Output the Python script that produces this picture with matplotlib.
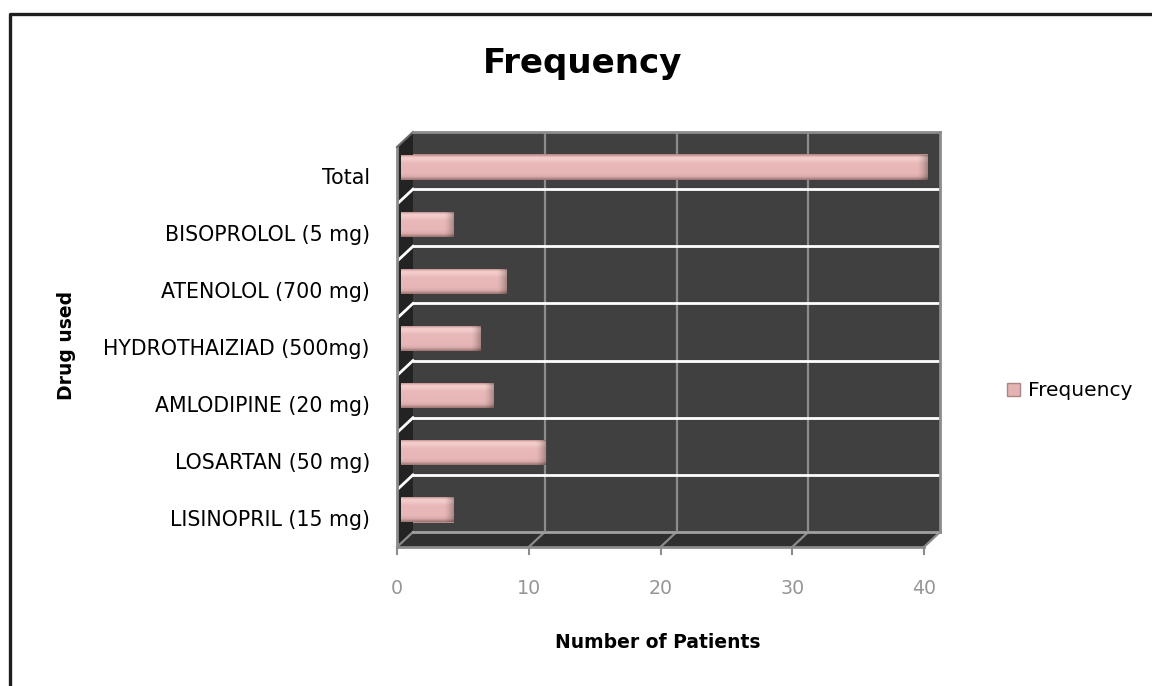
import numpy as np
import matplotlib
matplotlib.use("Agg")
import matplotlib.pyplot as plt
from matplotlib.transforms import ScaledTranslation
from matplotlib.patches import Polygon, Patch
from matplotlib.lines import Line2D
from matplotlib.colors import to_rgb

# ---- data ----
drugs = ["LISINOPRIL (15 mg)", "LOSARTAN (50 mg)", "AMLODIPINE (20 mg)",
         "HYDROTHAIZIAD (500mg)", "ATENOLOL (700 mg)", "BISOPROLOL (5 mg)", "Total"]
frequency = [4, 11, 7, 6, 8, 4, 40]
x_ticks = [0, 10, 20, 30, 40]

W, H = 1152, 686
plt.rcParams["font.family"] = ["DejaVu Sans"]
fig = plt.figure(figsize=(W / 100, H / 100), dpi=100)
fig.patch.set_facecolor("white")

# back wall of the pseudo-3D plot
L, R, T, B = 413, 940, 132, 532
ax = fig.add_axes([L / W, 1 - B / H, (R - L) / W, (B - T) / H])
ax.set_facecolor("#404040")
n = len(drugs)
ypos = np.arange(n)
ax.set_xlim(0, 40)
ax.set_ylim(-0.5, n - 0.5)

# depth offset of the front plane (pixels -> data units)
px_x = 40 / (R - L)
px_y = n / (B - T)
DX, DY = -16 * px_x, -15 * px_y

for s in ["left", "bottom"]:
    ax.spines[s].set_visible(False)
for s in ["top", "right"]:
    ax.spines[s].set_color("#8c8c8c")
    ax.spines[s].set_linewidth(2)

# grid on back wall
for g in x_ticks[1:-1]:
    ax.axvline(g, color="#8c8c8c", lw=1.6, zorder=1)
for b in np.arange(n - 1) + 0.5:
    ax.axhline(b, color="white", lw=2.0, zorder=1)

# side wall
ybot, ytop = -0.5, n - 0.5
side = Polygon([(0, ytop), (0, ybot), (DX, ybot + DY), (DX, ytop + DY)],
               closed=True, facecolor="#232323", edgecolor="none",
               clip_on=False, zorder=0.5)
ax.add_patch(side)
for b in np.arange(n - 1) + 0.5:
    ax.add_line(Line2D([0, DX], [b, b + DY], color="white", lw=2.0,
                       clip_on=False, zorder=0.6))
ax.add_line(Line2D([DX, DX], [ybot + DY, ytop + DY], color="#8c8c8c", lw=2,
                   clip_on=False, zorder=0.7))
ax.add_line(Line2D([0, DX], [ytop, ytop + DY], color="#6a6a6a", lw=1.5,
                   clip_on=False, zorder=0.7))

# floor
floor = Polygon([(0, ybot), (40, ybot), (40 + DX, ybot + DY), (DX, ybot + DY)],
                closed=True, facecolor="#2f2f2f", edgecolor="none",
                clip_on=False, zorder=0.5)
ax.add_patch(floor)
for g in x_ticks:
    ax.add_line(Line2D([g, g + DX], [ybot, ybot + DY], color="#8c8c8c", lw=1.6,
                       clip_on=False, zorder=0.6))
ax.add_line(Line2D([0, 40], [ybot, ybot], color="#a0a0a0", lw=2,
                   clip_on=False, zorder=0.7))
ax.add_line(Line2D([DX, 40 + DX], [ybot + DY, ybot + DY], color="#8c8c8c", lw=2,
                   clip_on=False, zorder=0.7))
# tick marks on front edge
for g in x_ticks:
    ax.add_line(Line2D([g + DX, g + DX], [ybot + DY, ybot + DY - 7 * px_y],
                       color="#8c8c8c", lw=1.5, clip_on=False, zorder=0.7))

# bars (drawn at mid depth)
bar_tr = ax.transData + ScaledTranslation(-12 / 100, -6.5 / 100, fig.dpi_scale_trans)
bar_h = 0.44
bars = ax.barh(ypos, frequency, height=bar_h, color="#b58a89",
               transform=bar_tr, zorder=3, edgecolor="none")

# shaded face of each bar: vertical tube shading plus a darker rounded end
stops = [0.0, 0.06, 0.12, 0.22, 0.35, 0.75, 0.88, 0.95, 1.0]
cols = ["#a98180", "#d6a7a6", "#f4cdcc", "#f2cac9", "#e8b9b8",
        "#e6b7b6", "#d8aaa9", "#b48988", "#9c7574"]
cols = np.array([to_rgb(c) for c in cols])
rows = np.linspace(0, 1, 48)
vprof = np.stack([np.interp(rows, stops, cols[:, k]) for k in range(3)], axis=1)
cap = 10 * px_x
for rect, val, y in zip(bars, frequency, ypos):
    ncol = 400
    xs = np.linspace(0, val, ncol)
    shade = np.ones(ncol)
    m = xs > val - cap
    shade[m] = 1 - 0.28 * ((xs[m] - (val - cap)) / cap) ** 1.5
    img = vprof[:, None, :] * shade[None, :, None]
    im = ax.imshow(img, extent=(0, val, y - bar_h / 2, y + bar_h / 2),
                   origin="upper", aspect="auto", transform=bar_tr,
                   zorder=3.5, interpolation="bilinear")
    im.set_clip_path(rect)
ax.set_xlim(0, 40)
ax.set_ylim(-0.5, n - 0.5)

# tick labels
ax.set_yticks(ypos)
ax.set_yticklabels(drugs)
ax.tick_params(axis="y", length=0, pad=31, labelsize=14.8, labelcolor="black")
for lab in ax.get_yticklabels():
    lab.set_transform(lab.get_transform() +
                      ScaledTranslation(0, -15 / 100, fig.dpi_scale_trans))
ax.set_xticks(x_ticks)
ax.set_xticklabels([str(v) for v in x_ticks])
ax.tick_params(axis="x", length=0, pad=34, labelsize=13.7, labelcolor="#969696")
for lab in ax.get_xticklabels():
    lab.set_transform(lab.get_transform() +
                      ScaledTranslation(-16 / 100, 0, fig.dpi_scale_trans))

# titles
fig.text(583 / W, 1 - 73 / H, "Frequency", ha="center", va="baseline",
         fontsize=24.5, fontweight="bold")
fig.text(658 / W, 1 - 648 / H, "Number of Patients", ha="center", va="baseline",
         fontsize=13.5, fontweight="bold")
fig.text(66 / W, 1 - 345 / H, "Drug used", ha="center", va="center",
         rotation=90, fontsize=13.5, fontweight="bold")

# legend
handle = Patch(facecolor="#e3b4b3", edgecolor="#a88685", linewidth=1)
fig.legend([handle], ["Frequency"], loc="center left",
           bbox_to_anchor=(1007 / W, 1 - 391 / H), frameon=False,
           fontsize=14.5, handlelength=0.65, handleheight=0.65,
           handletextpad=0.4, borderpad=0, borderaxespad=0)

# outer border
fig.add_artist(Line2D([10 / W, 10 / W, 1.01], [-0.01, 1 - 14 / H, 1 - 14 / H],
                      color="#1e1e1e", lw=2.4, transform=fig.transFigure))

fig.savefig("out.png", dpi=100)
